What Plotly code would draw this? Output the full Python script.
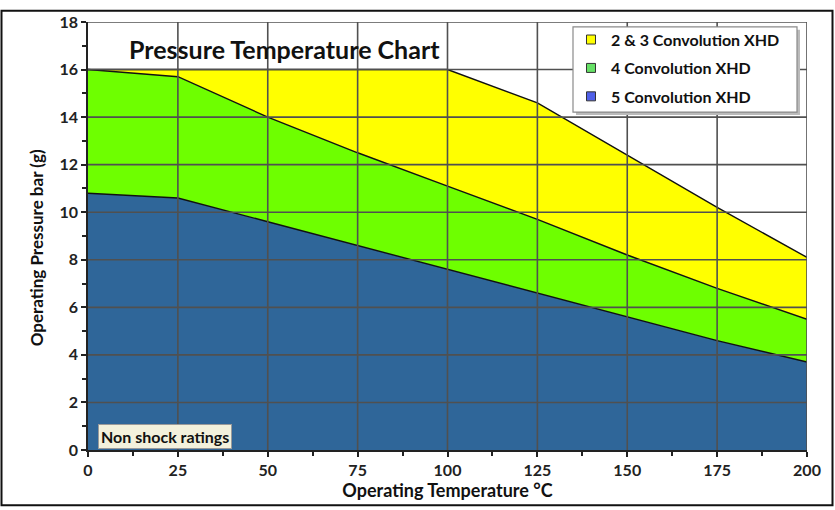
import plotly.graph_objects as go

# Data
temperature = [0, 25, 50, 75, 100, 125, 150, 175, 200]
conv_2_3 = [16.0, 16.0, 16.0, 16.0, 16.0, 14.6, 12.4, 10.2, 8.1]
conv_4 = [16.0, 15.7, 14.0, 12.5, 11.1, 9.7, 8.2, 6.8, 5.5]
conv_5 = [10.8, 10.6, 9.6, 8.6, 7.6, 6.6, 5.6, 4.6, 3.7]

series_names = ['2 & 3 Convolution XHD', '4 Convolution XHD', '5 Convolution XHD']
legend_colors = ['#FFFF00', '#66E066', '#5060E8']

W, H = 835, 510
L, R, T, B = 88, 28, 13, 60
pw, ph = W - L - R, H - T - B


def px_x(px):
    return (px - L) / pw


def px_y(py):
    return (H - B - py) / ph


FONT = 'Lato'
GRID = '#505050'

fig = go.Figure()

# stacked areas (drawn bottom first so the fills stack)
fig.add_trace(go.Scatter(
    x=temperature, y=conv_5, mode='lines', fill='tozeroy',
    fillcolor='#2F6699', line=dict(color='#111111', width=1.4),
    showlegend=False, hoverinfo='skip'
))
fig.add_trace(go.Scatter(
    x=temperature, y=conv_4, mode='lines', fill='tonexty',
    fillcolor='#6EFF00', line=dict(color='#111111', width=1.4),
    showlegend=False, hoverinfo='skip'
))
fig.add_trace(go.Scatter(
    x=temperature, y=conv_2_3, mode='lines', fill='tonexty',
    fillcolor='#FFFF00', line=dict(color='#111111', width=1.4),
    showlegend=False, hoverinfo='skip'
))

# legend entries, one legend per row to get the row spacing of the original
legend_ids = ['legend', 'legend2', 'legend3']
for name, col, lid in zip(series_names, legend_colors, legend_ids):
    fig.add_trace(go.Scatter(
        x=[None], y=[None], mode='markers', name=name, legend=lid,
        marker=dict(symbol='square', size=9, color=col,
                    line=dict(color='#333333', width=1))
    ))

shapes = []
# grid drawn over the filled areas
for v in range(25, 201, 25):
    shapes.append(dict(type='line', xref='x', yref='y domain', x0=v, x1=v, y0=0, y1=1,
                       line=dict(color=GRID, width=1.6), layer='above'))
for h in range(2, 19, 2):
    shapes.append(dict(type='line', xref='x domain', yref='y', x0=0, x1=1, y0=h, y1=h,
                       line=dict(color=GRID, width=1.6), layer='above'))

# legend box with a soft shadow
lx0, lx1, ly0, ly1 = 573, 797, 18, 105
shapes.append(dict(type='rect', xref='paper', yref='paper',
                   x0=px_x(lx0 + 3), x1=px_x(lx1 + 3), y0=px_y(ly1 + 3), y1=px_y(ly0 + 3),
                   fillcolor='#bbbbbb', line=dict(width=0), layer='above'))
shapes.append(dict(type='rect', xref='paper', yref='paper',
                   x0=px_x(lx0), x1=px_x(lx1), y0=px_y(ly1), y1=px_y(ly0),
                   fillcolor='white', line=dict(color='#8a8a8a', width=1.2), layer='above'))

# outer frame around the whole picture
shapes.append(dict(type='rect', xref='paper', yref='paper',
                   x0=px_x(1.5), x1=px_x(832.5), y0=px_y(506.5), y1=px_y(1.5),
                   line=dict(color='#111111', width=2), layer='above'))

row_y = [31, 60, 89]
legends = {}
for lid, ry in zip(legend_ids, row_y):
    legends[lid] = dict(
        x=px_x(571), xanchor='left', y=px_y(ry), yanchor='middle',
        bgcolor='rgba(0,0,0,0)', borderwidth=0,
        font=dict(family=FONT, size=16, color='#111111', weight='bold'),
        itemwidth=30
    )

fig.update_layout(
    width=W, height=H,
    margin=dict(l=L, r=R, t=T, b=B),
    paper_bgcolor='white', plot_bgcolor='white',
    font=dict(family=FONT, color='#222222'),
    shapes=shapes,
    **legends,
    xaxis=dict(
        range=[0, 200], tickmode='linear', tick0=0, dtick=25,
        showgrid=False, zeroline=False,
        showline=True, linecolor='#222222', linewidth=1.5,
        ticks='outside', ticklen=5, tickcolor='#222222', tickwidth=1.5,
        minor=dict(dtick=12.5, ticks='outside', ticklen=4, tickcolor='#222222', tickwidth=1.5),
        tickfont=dict(family=FONT, size=16, color='#222222', weight='bold'),
        title=dict(text='Operating Temperature °C', standoff=2,
                   font=dict(family=FONT, size=18, color='#111111', weight='bold')),
        layer='above traces'
    ),
    yaxis=dict(
        range=[0, 18], tickmode='linear', tick0=0, dtick=2,
        showgrid=False, zeroline=False,
        showline=True, linecolor='#222222', linewidth=1.5,
        ticks='outside', ticklen=5, tickcolor='#222222', tickwidth=1.5,
        minor=dict(dtick=1, ticks='outside', ticklen=4, tickcolor='#222222', tickwidth=1.5),
        tickfont=dict(family=FONT, size=16, color='#222222', weight='bold'),
        layer='above traces'
    ),
    annotations=[
        dict(text='Pressure Temperature Chart', xref='paper', yref='paper',
             x=px_x(127), xanchor='left', y=px_y(41), yanchor='middle', showarrow=False,
             font=dict(family=FONT, size=25, color='#111111', weight='bold')),
        dict(text='Non shock ratings', xref='paper', yref='paper',
             x=px_x(98), xanchor='left', y=px_y(436), yanchor='middle', showarrow=False,
             bgcolor='#F3F1DC', bordercolor='#9a9a9a', borderwidth=1, borderpad=2,
             font=dict(family=FONT, size=16, color='#111111', weight='bold')),
        # y-axis title, placed a little below the plot centre as in the original
        dict(text='Operating Pressure bar (g)', xref='paper', yref='paper',
             x=px_x(36), xanchor='center', y=px_y(244), yanchor='middle', showarrow=False,
             textangle=-90,
             font=dict(family=FONT, size=17, color='#111111', weight='bold')),
    ]
)

# drop the default page margin so the figure sits at the window corner
fig.write_html("out.html", config={'displayModeBar': False},
               post_script="document.body.style.margin='0px';")
